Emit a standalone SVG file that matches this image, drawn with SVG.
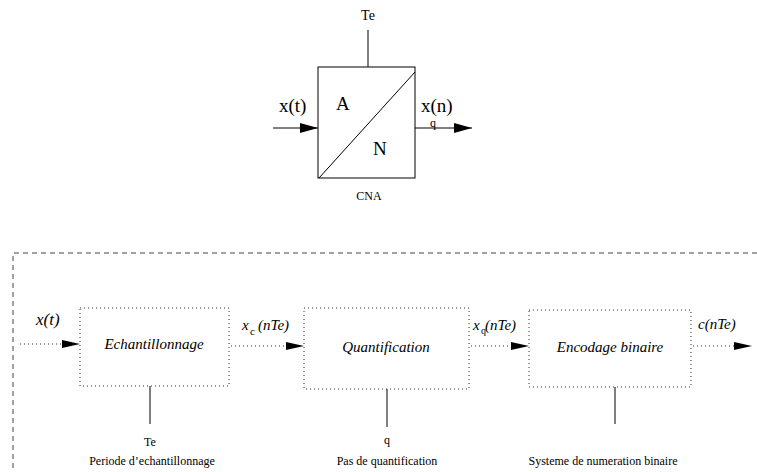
<svg xmlns="http://www.w3.org/2000/svg" width="757" height="472" viewBox="0 0 757 472">
<style>
.big{font-size:19px}
.lbl{font-size:15px;font-style:italic}
.sm{font-size:12px}
.solid{stroke:#000;stroke-width:1;fill:none}
.dot{stroke:#333;stroke-width:1;stroke-dasharray:1 3;fill:none}
.dash{stroke:#444;stroke-width:1;stroke-dasharray:5 4;fill:none}
</style>
<defs>
<marker id="ah" markerWidth="18" markerHeight="10" refX="18" refY="5" orient="auto" markerUnits="userSpaceOnUse">
<path d="M0,0 L18,5 L0,10 Z" fill="#000"/>
</marker>
<marker id="ah2" markerWidth="18" markerHeight="8" refX="18" refY="4" orient="auto" markerUnits="userSpaceOnUse">
<path d="M0,0 L18,4 L0,8 Z" fill="#000"/>
</marker>
</defs>
<g font-family="Liberation Serif, Times New Roman, DejaVu Serif, serif" fill="#000">
<g id="cna">
<rect x="318" y="67" width="97" height="111" class="solid"/>
<line x1="319" y1="178" x2="415" y2="72" class="solid"/>
<line x1="368" y1="30" x2="368" y2="67" class="solid"/>
<text x="368" y="20" text-anchor="middle" font-size="14">Te</text>
<text x="336" y="110" class="big">A</text>
<text x="373" y="155" class="big">N</text>
<text x="369" y="200" class="sm" text-anchor="middle">CNA</text>
</g>

<g id="bloc_echant">
<rect x="80" y="308" width="149" height="78" class="dot"/>
<text x="154" y="349" class="lbl" text-anchor="middle">Echantillonnage</text>
<line x1="150" y1="386" x2="150" y2="424" class="solid"/>
<text x="150" y="446" class="sm" text-anchor="middle">Te</text>
<text x="152" y="465" class="sm" text-anchor="middle">Periode d’echantillonnage</text>
</g>

<g id="bloc_quant">
<rect x="304" y="308" width="165" height="81" class="dot"/>
<text x="386" y="352" class="lbl" text-anchor="middle">Quantification</text>
<line x1="387" y1="389" x2="387" y2="427" class="solid"/>
<text x="387" y="444" class="sm" text-anchor="middle">q</text>
<text x="387" y="465" class="sm" text-anchor="middle">Pas de quantification</text>
</g>

<g id="bloc_encod">
<rect x="529" y="310" width="162" height="77" class="dot"/>
<text x="610" y="352" class="lbl" text-anchor="middle">Encodage binaire</text>
<line x1="615" y1="387" x2="615" y2="424" class="solid"/>
<text x="603" y="465" class="sm" text-anchor="middle">Systeme de numeration binaire</text>
</g>

<g id="cadre">
<polyline points="757,253 13,253 13,472" class="dash"/>
</g>

<g id="connectors">
<line x1="273" y1="128" x2="318" y2="128" class="solid" marker-end="url(#ah)"/>
<line x1="415" y1="128" x2="472" y2="128" class="solid" marker-end="url(#ah)"/>
<line x1="20" y1="344" x2="62" y2="344" class="dot"/>
<line x1="62" y1="344" x2="80" y2="344" stroke="none" marker-end="url(#ah2)"/>
<line x1="231" y1="346" x2="286" y2="346" class="dot"/>
<line x1="286" y1="346" x2="304" y2="346" stroke="none" marker-end="url(#ah2)"/>
<line x1="471" y1="346" x2="513" y2="346" class="dot"/>
<line x1="513" y1="346" x2="529" y2="346" stroke="none" marker-end="url(#ah2)"/>
<line x1="693" y1="346" x2="734" y2="346" class="dot"/>
<line x1="734" y1="346" x2="752" y2="346" stroke="none" marker-end="url(#ah2)"/>
</g>

<g id="labels">
<text x="279" y="112" class="big">x(t)</text>
<text x="421" y="112" class="big">x(n)</text>
<text x="430" y="127" font-size="12">q</text>
<text x="36" y="325" class="lbl" font-size="17" style="font-size:17px">x(t)</text>
<text x="242" y="330" class="lbl">x</text>
<text x="250" y="335" font-size="11">c</text>
<text x="258" y="330" class="lbl">(nTe)</text>
<text x="473" y="330" class="lbl">x</text>
<text x="481" y="334" font-size="10">q</text>
<text x="485" y="330" class="lbl">(nTe)</text>
<text x="698" y="329" class="lbl">c(nTe)</text>
</g>
</g>
</svg>
